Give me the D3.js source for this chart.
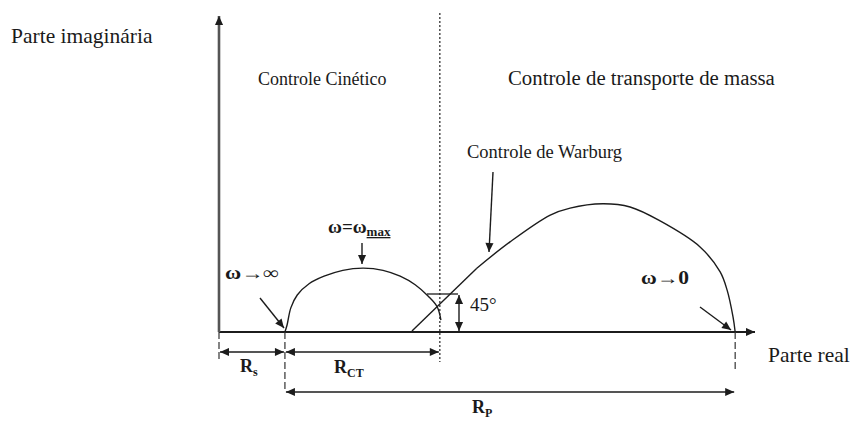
<!DOCTYPE html>
<html><head><meta charset="utf-8">
<script src="https://cdn.jsdelivr.net/npm/d3@7"></script>
<style>
html,body{margin:0;padding:0;background:#fff;}
svg{display:block;}
text{font-family:"Liberation Serif","Times New Roman",serif;fill:#1a1a1a;}
</style></head>
<body>
<svg id="chart" width="855" height="421"></svg>
<script>
// ---- data (real part Z' / imaginary part -Z'', arbitrary units) ----
const axisTitles = ["Parte real", "Parte imaginária"];
const regionTitles = ["Controle Cinético", "Controle de transporte de massa", "Controle de Warburg"];
const freqLabels = ["ω→∞", "ω=ω", "ω→0"];
const resistanceNames = ["R", "R", "R"];
const resistanceSubs = ["s", "CT", "P"];
const angleLabel = "45°";
const rS = 12.3;          // solution resistance
const rCT = 28.9;         // charge-transfer resistance
const rP = 84.0;          // total polarisation resistance (from Rs)
const xMax = 100, yMax = 59.1;
const kineticArc = [[12.3,0],[12.7,1.3],[13.4,4.5],[14.6,6.9],[16.8,9.0],[19.6,10.4],[23.1,11.5],[26.9,11.9],[30.6,11.5],[33.8,10.4],[36.6,8.8],[39.0,6.7],[40.7,4.7],[41.4,2.2]];
const warburgLine = [[36.0,0.2],[48.1,11.9]];
const diffusionArc = [[48.1,11.9],[54.3,16.8],[61.8,21.8],[65.5,23.1],[71.6,23.9],[76.7,23.3],[82.3,20.7],[89.7,15.9],[93.5,11.2],[94.8,7.8],[95.9,2.8],[96.3,0]];

// ---- scales ----
const x = d3.scaleLinear().domain([0, xMax]).range([219, 755]);
const y = d3.scaleLinear().domain([0, yMax]).range([332, 15]);
const svg = d3.select("#chart");
const ink = "#1c1c1c";

const defs = svg.append("defs");
defs.append("marker").attr("id","arr").attr("viewBox","0 0 10 10")
  .attr("refX",10).attr("refY",5).attr("markerWidth",10).attr("markerHeight",9)
  .attr("markerUnits","userSpaceOnUse").attr("orient","auto-start-reverse")
  .append("path").attr("d","M0,0.5 L10,5 L0,9.5 Z").attr("fill",ink);

const line = d3.line().x(d=>x(d[0])).y(d=>y(d[1]));
const curve = d3.line().x(d=>x(d[0])).y(d=>y(d[1])).curve(d3.curveCatmullRom.alpha(0.5));

// ---- axes ----
svg.append("line").attr("x1",x(0)).attr("y1",y(0)).attr("x2",x(xMax)).attr("y2",y(0))
  .attr("stroke",ink).attr("stroke-width",1.8).attr("marker-end","url(#arr)");
svg.append("line").attr("x1",x(0)).attr("y1",y(0)).attr("x2",x(0)).attr("y2",y(yMax)+1)
  .attr("stroke","#555").attr("stroke-width",2.6).attr("marker-end","url(#arr)");

// region separator
svg.append("line").attr("x1",x(rS+rCT)).attr("y1",13).attr("x2",x(rS+rCT)).attr("y2",362)
  .attr("stroke","#333").attr("stroke-width",1.3).attr("stroke-dasharray","2,2");

// dimension guide lines
const guides = [[0,362],[rS,390],[rS+rP,372]];
svg.selectAll(".guide").data(guides).enter().append("line")
  .attr("x1",d=>x(d[0])).attr("x2",d=>x(d[0])).attr("y1",y(0)).attr("y2",d=>d[1])
  .attr("stroke","#333").attr("stroke-width",1.2).attr("stroke-dasharray","7,3");

// ---- curves ----
svg.append("path").attr("d",curve(kineticArc)).attr("fill","none").attr("stroke",ink).attr("stroke-width",1.4);
svg.append("path").attr("d",line(warburgLine)).attr("fill","none").attr("stroke",ink).attr("stroke-width",1.4);
svg.append("path").attr("d",curve(diffusionArc)).attr("fill","none").attr("stroke",ink).attr("stroke-width",1.4);

// ---- dimension arrows ----
const dims = [[0,rS,352],[rS,rS+rCT,352],[rS,rS+rP,392]];
svg.selectAll(".dim").data(dims).enter().append("line")
  .attr("x1",d=>x(d[0])+1).attr("x2",d=>x(d[1])-1).attr("y1",d=>d[2]).attr("y2",d=>d[2])
  .attr("stroke",ink).attr("stroke-width",1.4)
  .attr("marker-start","url(#arr)").attr("marker-end","url(#arr)");

const resPos = [[240,372],[334,373],[472,413]];
resistanceNames.forEach((n,i)=>{
  const t = svg.append("text").attr("x",resPos[i][0]).attr("y",resPos[i][1])
    .attr("font-size",18).attr("font-weight","bold").text(n);
  t.append("tspan").attr("font-size",12).attr("dy",4).text(resistanceSubs[i]);
});

// 45° indicator
svg.append("line").attr("x1",427).attr("x2",458).attr("y1",294).attr("y2",294).attr("stroke",ink).attr("stroke-width",1.3);
svg.append("line").attr("x1",459).attr("x2",459).attr("y1",295).attr("y2",y(0)-1)
  .attr("stroke",ink).attr("stroke-width",1.4).attr("marker-start","url(#arr)").attr("marker-end","url(#arr)");
svg.append("text").attr("x",470).attr("y",311).attr("font-size",19).text(angleLabel);

// ---- annotation arrows ----
const pointers = [[260,298,284,328],[362,243,362,264],[493,172,489,252],[700,307,731,330]];
svg.selectAll(".ptr").data(pointers).enter().append("line")
  .attr("x1",d=>d[0]).attr("y1",d=>d[1]).attr("x2",d=>d[2]).attr("y2",d=>d[3])
  .attr("stroke",ink).attr("stroke-width",1.4).attr("marker-end","url(#arr)");

// frequency labels
svg.append("text").attr("x",225).attr("y",279).attr("font-size",18).attr("font-weight","bold")
  .attr("textLength",54).attr("lengthAdjust","spacingAndGlyphs").text(freqLabels[0]);
const wm = svg.append("text").attr("x",328).attr("y",233).attr("font-size",19).attr("font-weight","bold").text(freqLabels[1]);
wm.append("tspan").attr("font-size",13).attr("dy",3).attr("text-decoration","underline").text("max");
svg.append("text").attr("x",641).attr("y",284).attr("font-size",18).attr("font-weight","bold")
  .attr("textLength",48).attr("lengthAdjust","spacingAndGlyphs").text(freqLabels[2]);

// ---- titles ----
svg.append("text").attr("x",11).attr("y",43).attr("font-size",21.5).text(axisTitles[1]);
svg.append("text").attr("x",768).attr("y",362).attr("font-size",21.5).text(axisTitles[0]);
svg.append("text").attr("x",258).attr("y",85).attr("font-size",18).text(regionTitles[0]);
svg.append("text").attr("x",508).attr("y",85).attr("font-size",20.8).text(regionTitles[1]);
svg.append("text").attr("x",467).attr("y",158).attr("font-size",18.5).text(regionTitles[2]);
</script>
</body></html>
